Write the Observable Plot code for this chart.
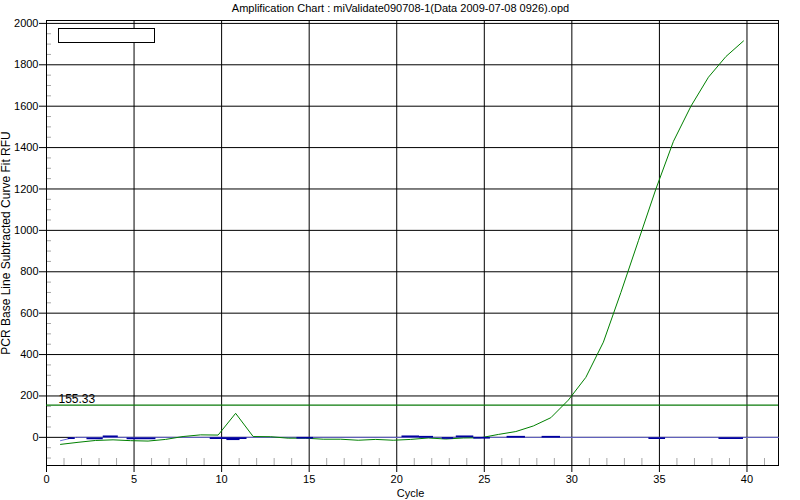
<!DOCTYPE html>
<html><head><meta charset="utf-8">
<script src="https://cdn.jsdelivr.net/npm/d3@7"></script>
<script src="https://cdn.jsdelivr.net/npm/@observablehq/plot@0.6"></script>
<style>
body{margin:0;background:#fff;}
#wrap{position:relative;width:800px;height:500px;}
#legend{position:absolute;left:58px;top:28px;width:95px;height:13px;border:1px solid #000;background:#fff;}
</style></head><body><div id="wrap"><div id="legend"></div></div>
<script>
const title = "Amplification Chart : miValidate090708-1(Data 2009-07-08 0926).opd";
const xLabel = "Cycle";
const yLabel = "PCR Base Line Subtracted Curve Fit RFU";

// main sample (green) — cycle positions and RFU values
const cycles = [0.8,1.8,2.8,3.8,4.8,5.8,6.8,7.8,8.8,9.8,10.8,11.8,12.8,13.8,14.8,15.8,16.8,17.8,18.8,19.8,
                20.8,21.8,22.8,23.8,24.8,25.8,26.8,27.8,28.8,29.8,30.8,31.8,32.8,33.8,34.8,35.8,36.8,37.8,38.8,39.8];
const greenRFU = [-34,-24,-15,-12,-16,-18,-10,4,12,11,116,4,3,-4,-4,-9,-9,-14,-10,-14,
                  -10,-3,-8,-3,-2,14,28,55,95,180,290,460,700,950,1200,1430,1600,1740,1840,1915];

// threshold
const threshold = 155.33;

// lavender baseline well
const baseCycles = [0.8,1.3,1.7,41.8];
const baseRFU = [-16,-6,0,0];

// dark blue well: visible flat segments (start cycle, end cycle, RFU)
const blueStart = [1.24,2.31,3.24,4.6,9.35,10.3,14.3,20.3,21.3,22.6,23.4,24.4,26.3,28.3,34.4,38.4];
const blueEnd   = [1.64,3.24,4.1,6.25,11.45,11.05,15.25,21.3,22.1,23.25,24.4,25.35,27.35,29.35,35.35,39.8];
const blueRFU   = [-4,-5,5,-5,-4,-9,-2,5,3,-3,5,-2,3,3,-4,-4];

// ticks
const xMajor = [0,5,10,15,20,25,30,35,40];
const yMajor = [0,200,400,600,800,1000,1200,1400,1600,1800,2000];
const xMinor = d3.range(1, 42).filter(d => d % 5 !== 0);
const yMinor = d3.range(-100, 2001, 50).filter(d => d % 200 !== 0);

const green = cycles.map((c, i) => ({c, v: greenRFU[i]}));
const base = baseCycles.map((c, i) => ({c, v: baseRFU[i]}));
const blue = blueStart.map((s, i) => ({s, e: blueEnd[i], v: blueRFU[i]}));

const font = "'Liberation Sans', Arial, sans-serif";
const chart = Plot.plot({
  width: 800, height: 500,
  marginLeft: 46, marginRight: 22, marginTop: 20, marginBottom: 35,
  style: {fontFamily: font, fontSize: "11px", color: "#000", background: "#fff", overflow: "visible"},
  x: {domain: [0, 41.8]},
  y: {domain: [-136, 2014]},
  marks: [
    Plot.gridX(xMajor.filter(d => d > 0), {stroke: "#000", strokeOpacity: 1}),
    Plot.gridY(yMajor, {stroke: "#000", strokeOpacity: 1}),
    Plot.ruleX(xMinor, {stroke: "#a8a8a8", insetTop: 438}),
    Plot.ruleY(yMinor, {stroke: "#a8a8a8", insetRight: 727}),
    Plot.axisX({ticks: xMajor, tickSize: 7, tickPadding: 3, label: null, fontSize: 11, tickFormat: d3.format("d")}),
    Plot.axisY({ticks: yMajor, tickSize: 7, tickPadding: 1, label: null, fontSize: 11, tickFormat: d3.format("d")}),
    Plot.frame({stroke: "#000"}),
    Plot.ruleY([threshold], {stroke: "#0a7a0a", strokeWidth: 1.3}),
    Plot.text([threshold], {y: d => d, text: d => d.toFixed(2), frameAnchor: "left", textAnchor: "start", lineAnchor: "bottom", dx: 12, dy: -2, fontSize: 12}),
    Plot.line(base, {x: "c", y: "v", stroke: "#6b6bd6", strokeWidth: 1}),
    Plot.line(green, {x: "c", y: "v", stroke: "#008000", strokeWidth: 1}),
    Plot.ruleY(blue, {y: "v", x1: "s", x2: "e", stroke: "#0000a0", strokeWidth: 1.7}),
    Plot.text([title], {frameAnchor: "top", dx: -12, dy: -12, lineAnchor: "middle", fontSize: 11}),
    Plot.text([yLabel], {frameAnchor: "left", rotate: -90, dx: -37, textAnchor: "middle", lineAnchor: "bottom", fontSize: 12}),
    Plot.text([xLabel], {frameAnchor: "bottom", dx: -2, dy: 28, lineAnchor: "middle", fontSize: 11})
  ]
});
document.getElementById("wrap").prepend(chart);
</script></body></html>
